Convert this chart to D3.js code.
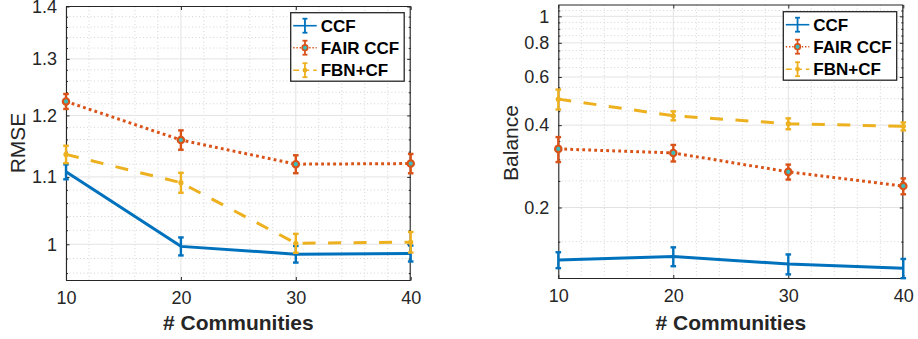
<!DOCTYPE html>
<html><head><meta charset="utf-8">
<script src="https://cdn.jsdelivr.net/npm/d3@7"></script>
<style>
html,body{margin:0;padding:0;background:#fff;}
svg{display:block;}
text{font-family:"Liberation Sans",Arial,Helvetica,sans-serif;}
</style></head>
<body><svg id="c" width="918" height="339"></svg>
<script>
// ---- data ----
const communities = [10, 20, 30, 40];
const seriesNames = ["CCF", "FAIR CCF", "FBN+CF"];

const rmseCCF     = [1.108, 0.997, 0.986, 0.987];
const rmseCCFErr  = [0.0117, 0.0127, 0.0116, 0.0111];
const rmseFair    = [1.224, 1.159, 1.120, 1.121];
const rmseFairErr = [0.0130, 0.0159, 0.0142, 0.0153];
const rmseFbn     = [1.1356, 1.091, 1.0014, 1.003];
const rmseFbnErr  = [0.0140, 0.0154, 0.0134, 0.0146];

const balCCF      = [0.1286, 0.1325, 0.1243, 0.1200];
const balCCFErr   = [0.0086, 0.0105, 0.0104, 0.0097];
const balFair     = [0.3275, 0.3166, 0.2700, 0.2395];
const balFairErr  = [0.0343, 0.0220, 0.0170, 0.0160];
const balFbn      = [0.498, 0.433, 0.405, 0.396];
const balFbnErr   = [0.0417, 0.0163, 0.0186, 0.0133];

const xTicks = [10, 20, 30, 40];
const rmseTicks = [1, 1.1, 1.2, 1.3, 1.4];
const rmseTickLabels = ["1", "1.1", "1.2", "1.3", "1.4"];
const balTicks = [0.2, 0.4, 0.6, 0.8, 1];
const balTickLabels = ["0.2", "0.4", "0.6", "0.8", "1"];

// ---- styles ----
const colors = ["#0072BD", "#D95319", "#EDB120"];
const dashes = [null, "2.8,3.2", "13,12.5"];
const axisColor = "#262626";

const svg = d3.select("#c");

function panel(opt) {
  const g = svg.append("g");
  const x = d3.scaleLinear().domain([10, 40]).range([opt.x0, opt.x1]);
  const y = d3.scaleLog().domain(opt.yDomain).range([opt.y1, opt.y0]);

  // minor grid
  const xMinor = d3.range(12, 40, 2).filter(v => v % 10 !== 0);
  g.selectAll(".xmg").data(xMinor).enter().append("line")
    .attr("x1", d => x(d)).attr("x2", d => x(d)).attr("y1", opt.y0).attr("y2", opt.y1)
    .attr("stroke", "#d4d4d4").attr("stroke-width", 1).attr("stroke-dasharray", "1,2.5");
  g.selectAll(".ymg").data(opt.yMinor).enter().append("line")
    .attr("x1", opt.x0).attr("x2", opt.x1).attr("y1", d => y(d)).attr("y2", d => y(d))
    .attr("stroke", "#d4d4d4").attr("stroke-width", 1).attr("stroke-dasharray", "1,2.5");
  // major grid
  g.selectAll(".xg").data(xTicks).enter().append("line")
    .attr("x1", d => x(d)).attr("x2", d => x(d)).attr("y1", opt.y0).attr("y2", opt.y1)
    .attr("stroke", "#e3e3e3").attr("stroke-width", 1);
  g.selectAll(".yg").data(opt.yTicks).enter().append("line")
    .attr("x1", opt.x0).attr("x2", opt.x1).attr("y1", d => y(d)).attr("y2", d => y(d))
    .attr("stroke", "#e3e3e3").attr("stroke-width", 1);

  // axes with d3 axis generators (ticks inward)
  const fmt = (d) => opt.yLabels[opt.yTicks.indexOf(d)];
  const axB = g.append("g").attr("transform", `translate(0,${opt.y1})`)
    .call(d3.axisBottom(x).tickValues(xTicks).tickSize(-3.5).tickPadding(11).tickFormat(d3.format("d")));
  const axT = g.append("g").attr("transform", `translate(0,${opt.y0})`)
    .call(d3.axisTop(x).tickValues(xTicks).tickSize(-3.5).tickFormat(""));
  const axL = g.append("g").attr("transform", `translate(${opt.x0},0)`)
    .call(d3.axisLeft(y).tickValues(opt.yTicks).tickSize(-3.5).tickPadding(9).tickFormat(fmt));
  const axR = g.append("g").attr("transform", `translate(${opt.x1},0)`)
    .call(d3.axisRight(y).tickValues(opt.yTicks).tickSize(-3.5).tickFormat(""));
  const axLm = g.append("g").attr("transform", `translate(${opt.x0},0)`)
    .call(d3.axisLeft(y).tickValues(opt.yMinor).tickSize(-2).tickFormat(""));
  const axRm = g.append("g").attr("transform", `translate(${opt.x1},0)`)
    .call(d3.axisRight(y).tickValues(opt.yMinor).tickSize(-2).tickFormat(""));
  [axB, axT, axL, axR, axLm, axRm].forEach(a => {
    a.select(".domain").attr("stroke", axisColor).attr("stroke-width", 1.1);
    a.selectAll(".tick line").attr("stroke", axisColor).attr("stroke-width", 1);
    a.selectAll(".tick text").attr("fill", axisColor).attr("font-size", 18)
      .style("font-family", '"Liberation Sans",Arial,sans-serif');
  });
  axL.selectAll(".domain").attr("d", `M0.5,${opt.y1}V${opt.y0}`);
  axR.selectAll(".domain").attr("d", `M-0.5,${opt.y1}V${opt.y0}`);
  axLm.select(".domain").remove(); axRm.select(".domain").remove();
  axB.selectAll(".domain").attr("d", `M${opt.x0},0H${opt.x1}`);
  axT.selectAll(".domain").attr("d", `M${opt.x0},0H${opt.x1}`);

  // series
  const line = d3.line().x((d, i) => x(communities[i])).y(d => y(d));
  opt.series.forEach((s, k) => {
    const sg = g.append("g");
    sg.append("path").datum(s.v).attr("d", line)
      .attr("fill", "none").attr("stroke", colors[k]).attr("stroke-width", 3)
      .attr("stroke-dasharray", dashes[k]).attr("stroke-linecap", "butt");
    const eb = sg.selectAll(".eb").data(s.v.map((v, i) => ({x: communities[i], v, e: s.e[i]}))).enter().append("g");
    eb.append("line").attr("x1", d => x(d.x)).attr("x2", d => x(d.x))
      .attr("y1", d => y(d.v - d.e)).attr("y2", d => y(d.v + d.e))
      .attr("stroke", colors[k]).attr("stroke-width", 2.4);
    [-1, 1].forEach(sgn => {
      eb.append("line").attr("x1", d => x(d.x) - 2.8).attr("x2", d => x(d.x) + 2.8)
        .attr("y1", d => y(d.v + sgn * d.e)).attr("y2", d => y(d.v + sgn * d.e))
        .attr("stroke", colors[k]).attr("stroke-width", 2.4);
    });
    if (k === 1) {
      eb.append("circle").attr("cx", d => x(d.x)).attr("cy", d => y(d.v)).attr("r", 3.2)
        .attr("fill", "#3cbcbc").attr("stroke", colors[k]).attr("stroke-width", 2.2);
    } else if (k === 2) {
      eb.append("circle").attr("cx", d => x(d.x)).attr("cy", d => y(d.v)).attr("r", 2.6)
        .attr("fill", colors[k]);
    }
  });

  // labels
  g.append("text").attr("x", (opt.x0 + opt.x1) / 2).attr("y", 330)
    .attr("text-anchor", "middle").attr("font-weight", "bold").attr("font-size", 21)
    .attr("fill", axisColor).text("# Communities");
  g.append("text").attr("transform", `translate(${opt.ylx},${opt.yly}) rotate(-90)`)
    .attr("text-anchor", "middle").attr("font-size", 21).attr("fill", axisColor).text(opt.ylabel);

  // legend
  const L = opt.legend;
  const lg = g.append("g");
  lg.append("rect").attr("x", L.x).attr("y", L.y).attr("width", L.w).attr("height", L.h)
    .attr("fill", "#fff").attr("stroke", axisColor).attr("stroke-width", 1.3);
  const rows = [L.y + 13, L.y + 35, L.y + 57.5];
  seriesNames.forEach((name, k) => {
    const cy = rows[k], lx0 = L.x + 2.5, lx1 = L.x + 26, cx = (lx0 + lx1) / 2;
    lg.append("line").attr("x1", lx0).attr("x2", lx1).attr("y1", cy).attr("y2", cy)
      .attr("stroke", colors[k]).attr("stroke-width", 1.6)
      .attr("stroke-dasharray", k === 1 ? "1.4,1.8" : (k === 2 ? "6,4" : null));
    lg.append("line").attr("x1", cx).attr("x2", cx).attr("y1", cy - 7).attr("y2", cy + 7)
      .attr("stroke", colors[k]).attr("stroke-width", 1.8);
    [-7, 7].forEach(dy => lg.append("line").attr("x1", cx - 2.5).attr("x2", cx + 2.5)
      .attr("y1", cy + dy).attr("y2", cy + dy).attr("stroke", colors[k]).attr("stroke-width", 1.8));
    if (k === 1) lg.append("circle").attr("cx", cx).attr("cy", cy).attr("r", 2.8)
      .attr("fill", "#3cbcbc").attr("stroke", colors[k]).attr("stroke-width", 1.6);
    if (k === 2) lg.append("circle").attr("cx", cx).attr("cy", cy).attr("r", 2.4).attr("fill", colors[k]);
    lg.append("text").attr("x", L.x + 30).attr("y", cy + 6.2).attr("font-weight", "bold")
      .attr("font-size", 17).attr("fill", "#000").text(name);
  });
}

panel({
  x0: 66, x1: 410.7, y0: 6.5, y1: 280.5, yDomain: [0.95, 1.4],
  yTicks: rmseTicks, yLabels: rmseTickLabels,
  yMinor: d3.range(0.96, 1.39, 0.02).map(v => +v.toFixed(2)).filter(v => !rmseTicks.includes(v)),
  series: [{v: rmseCCF, e: rmseCCFErr}, {v: rmseFair, e: rmseFairErr}, {v: rmseFbn, e: rmseFbnErr}],
  ylabel: "RMSE", ylx: 25, yly: 143,
  legend: {x: 290.7, y: 12.7, w: 113.5, h: 68.5}
});
panel({
  x0: 558.3, x1: 903.3, y0: 5, y1: 278.5, yDomain: [0.11, 1.1],
  yTicks: balTicks, yLabels: balTickLabels,
  yMinor: d3.range(0.15, 1.06, 0.05).map(v => +v.toFixed(2)).filter(v => !balTicks.includes(v)),
  series: [{v: balCCF, e: balCCFErr}, {v: balFair, e: balFairErr}, {v: balFbn, e: balFbnErr}],
  ylabel: "Balance", ylx: 518, yly: 143,
  legend: {x: 783.3, y: 11.7, w: 113.4, h: 68.5}
});
</script></body></html>
